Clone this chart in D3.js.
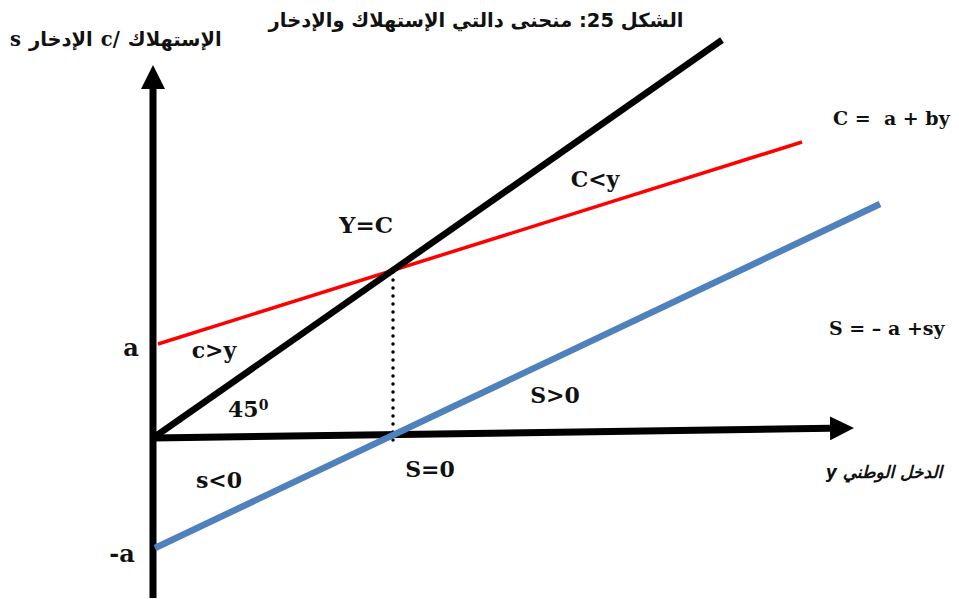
<!DOCTYPE html>
<html lang="ar">
  <head>
    <meta charset="utf-8" />
    <title>منحنى دالتي الإستهلاك والإدخار</title>
    <script src="https://cdnjs.cloudflare.com/ajax/libs/d3/7.8.5/d3.min.js"></script>
    <style type="text/css">
      body { margin: 0; background: #fff; }
      .lat { font-family: "DejaVu Serif", serif; font-weight: bold; fill: #111; }
      .ar { font-family: "DejaVu Sans", sans-serif; font-weight: bold; fill: #111; }
    </style>
  </head>

  <body>
    <div id="chart"></div>
    <script>
      // income (x) / consumption-saving (y)
      const xAxisPts = [[0, 0], [67.7, 0.97]];
      const yAxisPts = [[0, -16], [0, 34.9]];
      const line45 = [[0, 0], [56.9, 39.8]];
      const consumption = [[0.5, 9.4], [64.9, 29.6]];
      const saving = [[0.2, -11], [72.7, 23.4]];
      const equilibrium = [[24, -0.2], [24, 17]];

      const labels = [
        { text: 'Y=C', x: 21.3, y: 20.5, size: 23, anchor: 'middle' },
        { text: 'C<y', x: 44.2, y: 25.1, size: 22, anchor: 'middle' },
        { text: 'c>y', x: 6.1, y: 8.0, size: 22, anchor: 'middle' },
        { text: 'S>0', x: 40.2, y: 3.5, size: 22, anchor: 'middle' },
        { text: 'S=0', x: 27.7, y: -3.9, size: 22, anchor: 'middle' },
        { text: 's<0', x: 6.6, y: -5.0, size: 22, anchor: 'middle' },
        { text: 'a', x: -2.2, y: 8.2, size: 24, anchor: 'middle' },
        { text: '-a', x: -3.1, y: -12.4, size: 24, anchor: 'middle' },
        { text: 'C =\u00a0 a + by', x: 68.0, y: 31.3, size: 19, anchor: 'start' },
        { text: 'S = – a +sy', x: 67.6, y: 10.3, size: 19, anchor: 'start' },
      ];

      const title = 'الشكل 25: منحنى دالتي الإستهلاك والإدخار';
      // pieces of the y title, left to right as they appear
      const yTitleParts = ['s', 'الإدخار', 'c/', 'الإستهلاك'];
      const xTitle = 'الدخل الوطني y';

      const width = 959, height = 599;
      const x = d3.scaleLinear().domain([0, 80]).range([153, 953]);
      const y = d3.scaleLinear().domain([-16, 44]).range([598, -2]);

      const line = d3.line().x(d => x(d[0])).y(d => y(d[1]));

      const svg = d3.select('#chart')
        .append('svg')
        .attr('width', width)
        .attr('height', height);

      svg.append('defs').append('marker')
        .attr('id', 'arrow')
        .attr('markerUnits', 'userSpaceOnUse')
        .attr('markerWidth', 24)
        .attr('markerHeight', 24)
        .attr('viewBox', '0 -10 20 20')
        .attr('refX', 0)
        .attr('refY', 0)
        .attr('orient', 'auto')
        .append('path')
        .attr('d', 'M0,-10L20,0L0,10Z')
        .attr('fill', '#000');

      // axes
      [xAxisPts, yAxisPts].forEach(pts => {
        svg.append('path')
          .attr('d', line(pts))
          .attr('stroke', '#000')
          .attr('stroke-width', 7)
          .attr('fill', 'none')
          .attr('marker-end', 'url(#arrow)');
      });

      svg.append('path')
        .attr('d', line(equilibrium))
        .attr('stroke', '#000')
        .attr('stroke-width', 3.5)
        .attr('stroke-linecap', 'round')
        .attr('stroke-dasharray', '0,8')
        .attr('fill', 'none');

      svg.append('path')
        .attr('d', line(consumption))
        .attr('stroke', '#ff0000')
        .attr('stroke-width', 3.5)
        .attr('fill', 'none');

      svg.append('path')
        .attr('d', line(saving))
        .attr('stroke', '#4f81bd')
        .attr('stroke-width', 6.5)
        .attr('fill', 'none');

      svg.append('path')
        .attr('d', line(line45))
        .attr('stroke', '#000')
        .attr('stroke-width', 6.5)
        .attr('fill', 'none');

      svg.selectAll('text.lab')
        .data(labels)
        .join('text')
        .attr('class', 'lab lat')
        .attr('x', d => x(d.x))
        .attr('y', d => y(d.y))
        .attr('text-anchor', d => d.anchor)
        .attr('font-size', d => d.size)
        .text(d => d.text);

      // 45 with the small raised zero
      const deg = svg.append('text')
        .attr('class', 'lat')
        .attr('x', x(7.5))
        .attr('y', y(2.1))
        .attr('font-size', 22)
        .text('45');
      deg.append('tspan')
        .attr('font-size', 14)
        .attr('dy', -7)
        .text('0');

      svg.append('text')
        .attr('class', 'ar')
        .attr('direction', 'rtl')
        .attr('text-anchor', 'middle')
        .attr('x', 476)
        .attr('y', 27)
        .attr('font-size', 19.5)
        .text(title);

      // y title laid out piece by piece
      let cx = 10;
      yTitleParts.forEach(p => {
        const latin = /^[a-z\/]+$/.test(p);
        const t = svg.append('text')
          .attr('class', latin ? 'lat' : 'ar')
          .attr('x', cx)
          .attr('y', 46)
          .attr('font-size', 19.5)
          .text(p);
        cx += t.node().getComputedTextLength() + 8;
      });

      svg.append('text')
        .attr('class', 'ar')
        .attr('direction', 'rtl')
        .attr('text-anchor', 'middle')
        .attr('font-style', 'italic')
        .attr('x', 884)
        .attr('y', 478)
        .attr('font-size', 17)
        .text(xTitle);
    </script>
  </body>
</html>
